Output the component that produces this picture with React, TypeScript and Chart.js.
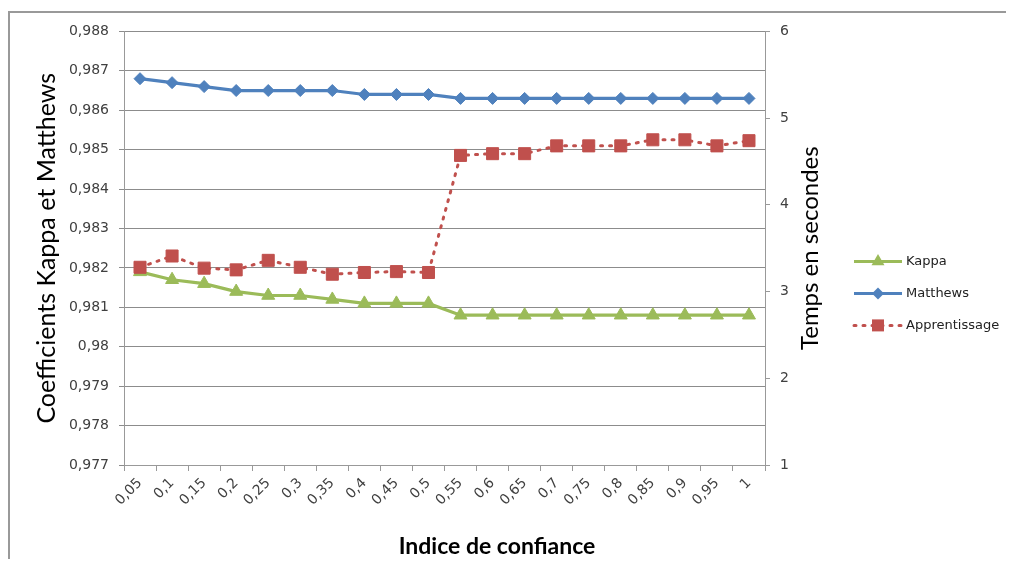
import React, { useEffect, useRef } from 'react';
import { Chart, registerables } from 'chart.js';

Chart.register(...registerables);

const categories = ['0,05', '0,1', '0,15', '0,2', '0,25', '0,3', '0,35', '0,4', '0,45', '0,5', '0,55', '0,6', '0,65', '0,7', '0,75', '0,8', '0,85', '0,9', '0,95', '1'];
const kappa = [0.9819, 0.9817, 0.9816, 0.9814, 0.9813, 0.9813, 0.9812, 0.9811, 0.9811, 0.9811, 0.9808, 0.9808, 0.9808, 0.9808, 0.9808, 0.9808, 0.9808, 0.9808, 0.9808, 0.9808];
const matthews = [0.9868, 0.9867, 0.9866, 0.9865, 0.9865, 0.9865, 0.9865, 0.9864, 0.9864, 0.9864, 0.9863, 0.9863, 0.9863, 0.9863, 0.9863, 0.9863, 0.9863, 0.9863, 0.9863, 0.9863];
const apprentissage = [3.28, 3.41, 3.27, 3.25, 3.36, 3.28, 3.2, 3.22, 3.23, 3.22, 4.57, 4.59, 4.59, 4.68, 4.68, 4.68, 4.75, 4.75, 4.68, 4.74];
const leftTicks = [0.977, 0.978, 0.979, 0.98, 0.981, 0.982, 0.983, 0.984, 0.985, 0.986, 0.987, 0.988];
const rightTicks = [1, 2, 3, 4, 5, 6];

const GREEN = '#9BBB59';
const BLUE = '#4F81BD';
const RED = '#C0504D';

const legendItems = [
  { label: 'Kappa', color: GREEN, marker: 'triangle', dash: [] as number[] },
  { label: 'Matthews', color: BLUE, marker: 'diamond', dash: [] as number[] },
  { label: 'Apprentissage', color: RED, marker: 'square', dash: [2, 7] },
];

const fmt = (v: number) => String(parseFloat(Number(v).toFixed(3))).replace('.', ',');

function drawMarker(ctx: CanvasRenderingContext2D, kind: string, x: number, y: number, color: string) {
  ctx.save();
  ctx.fillStyle = color;
  ctx.beginPath();
  if (kind === 'triangle') {
    const r = 7.5;
    ctx.moveTo(x, y - r);
    ctx.lineTo(x + r * 0.866, y + r * 0.5);
    ctx.lineTo(x - r * 0.866, y + r * 0.5);
  } else if (kind === 'diamond') {
    const r = 6;
    ctx.moveTo(x, y - r);
    ctx.lineTo(x + r, y);
    ctx.lineTo(x, y + r);
    ctx.lineTo(x - r, y);
  } else {
    const s = 6;
    ctx.rect(x - s, y - s, 2 * s, 2 * s);
  }
  ctx.closePath();
  ctx.fill();
  ctx.restore();
}

const decorPlugin = {
  id: 'decor',
  afterDraw(chart: any) {
    const ctx: CanvasRenderingContext2D = chart.ctx;
    const area = chart.chartArea;
    // right axis title
    ctx.save();
    ctx.translate(area.right + 45, (area.top + area.bottom) / 2);
    ctx.rotate(-Math.PI / 2);
    ctx.font = '24px Lato';
    ctx.fillStyle = '#000';
    ctx.textAlign = 'center';
    ctx.textBaseline = 'middle';
    ctx.fillText('Temps en secondes', 0, 0);
    ctx.restore();
    // x axis title
    ctx.save();
    ctx.font = 'bold 23px Lato';
    ctx.fillStyle = '#000';
    ctx.textAlign = 'center';
    ctx.textBaseline = 'middle';
    ctx.fillText('Indice de confiance', area.left + 373, area.bottom + 82);
    ctx.restore();
    // legend
    const lx = area.right + 89;
    const ly = area.top + 230;
    legendItems.forEach((it, i) => {
      const y = ly + i * 32;
      ctx.save();
      ctx.strokeStyle = it.color;
      ctx.lineWidth = 3;
      ctx.setLineDash(it.dash);
      ctx.lineCap = it.dash.length ? 'round' : 'butt';
      ctx.beginPath();
      ctx.moveTo(lx, y);
      ctx.lineTo(lx + 48, y);
      ctx.stroke();
      ctx.restore();
      drawMarker(ctx, it.marker, lx + 24, y, it.color);
      ctx.save();
      ctx.font = '13px "DejaVu Sans"';
      ctx.fillStyle = '#222';
      ctx.textAlign = 'left';
      ctx.textBaseline = 'middle';
      ctx.fillText(it.label, lx + 52, y);
      ctx.restore();
    });
  },
};

export default function App() {
  const ref = useRef<HTMLCanvasElement>(null);
  useEffect(() => {
    if (!ref.current) return;
    Chart.defaults.font.family = '"DejaVu Sans"';
    const tickFont = { family: '"DejaVu Sans"', size: 14 };
    const chart = new Chart(ref.current, {
      type: 'line',
      data: {
        labels: categories,
        datasets: [
          {
            label: 'Kappa', data: kappa, yAxisID: 'y', order: 2,
            borderColor: GREEN, backgroundColor: GREEN, borderWidth: 3.2, tension: 0,
            pointStyle: 'triangle', pointRadius: 7.5, pointBorderWidth: 1, pointBorderColor: GREEN, pointBackgroundColor: GREEN,
          },
          {
            label: 'Matthews', data: matthews, yAxisID: 'y', order: 1,
            borderColor: BLUE, backgroundColor: BLUE, borderWidth: 3.2, tension: 0,
            pointStyle: 'rectRot', pointRadius: 6, pointBorderWidth: 1, pointBorderColor: BLUE, pointBackgroundColor: BLUE,
          },
          {
            label: 'Apprentissage', data: apprentissage, yAxisID: 'y1', order: 0,
            borderColor: RED, backgroundColor: RED, borderWidth: 3, tension: 0,
            borderDash: [2, 7], borderCapStyle: 'round',
            pointStyle: 'rect', pointRadius: 8.5, pointBorderWidth: 1, pointBorderColor: RED, pointBackgroundColor: RED,
          },
        ],
      },
      options: {
        animation: false,
        responsive: true,
        maintainAspectRatio: false,
        layout: { padding: { top: 17, left: 0, right: 0, bottom: 0 } },
        plugins: { legend: { display: false }, tooltip: { enabled: false } },
        scales: {
          x: {
            type: 'category',
            offset: true,
            grid: { drawOnChartArea: false, drawTicks: true, tickLength: 6, color: '#999', offset: true },
            border: { color: '#999' },
            ticks: { minRotation: 45, maxRotation: 45, autoSkip: false, padding: 4, color: '#404040', font: tickFont },
            afterFit: (s: any) => { s.height = 94; },
          },
          y: {
            position: 'left',
            min: 0.977,
            max: 0.988,
            afterBuildTicks: (s: any) => { s.ticks = leftTicks.map((v) => ({ value: v })); },
            ticks: { callback: (v: any) => fmt(v), padding: 10, color: '#404040', font: tickFont },
            grid: { color: '#8c8c8c', tickLength: 5 },
            border: { color: '#999' },
            title: {
              display: true, text: 'Coefficients Kappa et Matthews', color: '#000',
              font: { family: 'Lato', size: 25 }, padding: { top: 22, bottom: 0 },
            },
            afterFit: (s: any) => { s.width = 114; },
          },
          y1: {
            position: 'right',
            min: 1,
            max: 6,
            afterBuildTicks: (s: any) => { s.ticks = rightTicks.map((v) => ({ value: v })); },
            ticks: { padding: 10, color: '#404040', font: tickFont },
            grid: { drawOnChartArea: false, tickLength: 5, color: '#999' },
            border: { color: '#999' },
            afterFit: (s: any) => { s.width = 249; },
          },
        },
      } as any,
      plugins: [decorPlugin],
    });
    return () => chart.destroy();
  }, []);
  return (
    <div style={{ marginTop: 3, width: 1006, height: 548, boxSizing: 'border-box', borderTop: '2px solid #999', borderLeft: '2px solid #999' }}>
      <div style={{ position: 'relative', width: 1004, height: 546 }}>
        <canvas ref={ref} />
      </div>
    </div>
  );
}
